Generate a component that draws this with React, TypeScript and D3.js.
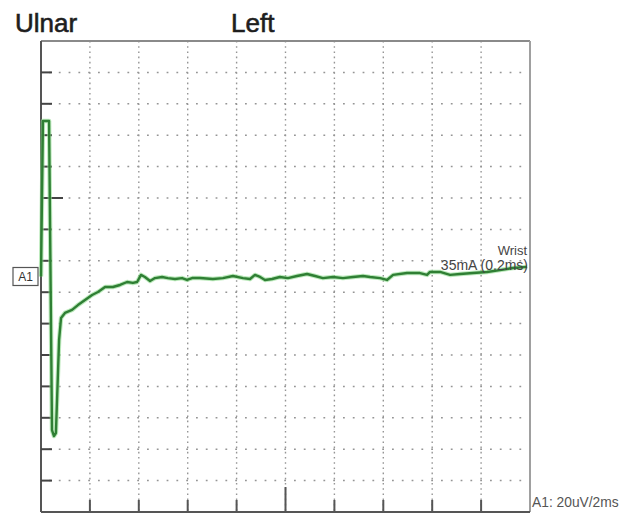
import React from "react";
import * as d3 from "d3";

// Trace samples: time (ms) and amplitude (uV)
const timeMs: number[] = [
  0, 0.08, 0.33, 0.45, 0.53, 0.61, 0.74, 0.82, 0.98, 1.27, 1.51, 1.8, 2.09, 2.33, 2.62,
  2.94, 3.23, 3.52, 3.76, 3.93, 4.09, 4.25, 4.46, 4.66, 4.95, 5.19, 5.48, 5.77, 5.97,
  6.18, 6.5, 7.03, 7.44, 7.85, 8.26, 8.55, 8.75, 8.96, 9.16, 9.45, 9.77, 10.1, 10.47,
  10.88, 11.21, 11.53, 11.94, 12.35, 12.76, 13.17, 13.46, 13.87, 14.15, 14.4, 14.97,
  15.5, 15.79, 15.91, 16.32, 16.73, 17.14, 17.67, 18.24, 18.77, 19.3, 19.88,
];
const amplitudeUv: number[] = [
  0, 99, 99, -97.8, -101.6, -99.7, -40.4, -26.4, -23.2, -21.3, -18.2, -15, -11.8, -9.9, -6.7,
  -6.7, -5.4, -3.5, -4.1, -3.5, 1, -0.3, -2.9, -1, -0.3, -1, -1.6, -1, -2.2,
  -1, -1, -1.6, -1, 0.3, -1, -1.6, 1, -0.3, -2.2, -1.6, -0.3, -1, 0.3,
  1.6, 0.3, -1, -0.3, -1, -0.3, 0.3, -0.3, -1, -2.2, 1, 2.2,
  2.2, 1, 2.9, 2.9, 1, 1.6, 2.2, 2.9, 4.1, 5.4, 6.1,
];

const titleLeft = "Ulnar";
const titleRight = "Left";
const channelLabel = "A1";
const siteLabel = "Wrist";
const stimLabel = "35mA (0.2ms)";
const scaleLabel = "A1: 20uV/2ms";

const xDivisions = 10; // 2 ms per division
const yDivisions = 15; // 20 uV per division
const msPerDiv = 2;
const uvPerDiv = 20;

export default function App() {
  const W = 632;
  const H = 514;
  const left = 41;
  const right = 530;
  const top = 41;
  const bottom = 512;

  const x = d3.scaleLinear().domain([0, xDivisions * msPerDiv]).range([left, right]);
  const y = d3
    .scaleLinear()
    .domain([-(yDivisions * uvPerDiv) / 2, (yDivisions * uvPerDiv) / 2])
    .range([bottom, top]);

  const pts: [number, number][] = timeMs.map((t, i) => [t, amplitudeUv[i]]);
  const line = d3
    .line<[number, number]>()
    .x((d) => x(d[0]))
    .y((d) => y(d[1]));
  const path = line(pts) || "";

  const xTicks = d3.range(1, xDivisions).map((i) => i * msPerDiv);
  const yTicks = d3
    .range(1, yDivisions)
    .map((i) => -(yDivisions * uvPerDiv) / 2 + i * uvPerDiv);

  const font = "'Liberation Sans', Arial, Helvetica, sans-serif";
  const yZero = y(0);

  return (
    <svg
      width={W}
      height={H}
      style={{ position: "absolute", left: 0, top: 0, background: "#fff" }}
      fontFamily={font}
    >
      <rect x={0} y={0} width={W} height={H} fill="#fff" />
      {/* grid */}
      {xTicks.map((t) => (
        <line
          key={"gx" + t}
          x1={x(t)}
          x2={x(t)}
          y1={top}
          y2={bottom}
          stroke="#959595"
          strokeWidth={1.4}
          strokeDasharray="1.6 3.6"
        />
      ))}
      {yTicks.map((v) => (
        <line
          key={"gy" + v}
          x1={left}
          x2={right}
          y1={y(v)}
          y2={y(v)}
          stroke="#959595"
          strokeWidth={1.5}
          strokeDasharray="1.8 8"
          strokeDashoffset={-8}
        />
      ))}
      {/* frame */}
      <line x1={left} x2={right} y1={top} y2={top} stroke="#8a8a8a" strokeWidth={2} />
      <line x1={right} x2={right} y1={top} y2={bottom} stroke="#a0a0a0" strokeWidth={2} />
      <line x1={left} x2={right} y1={bottom} y2={bottom} stroke="#555" strokeWidth={2} />
      <line x1={left} x2={left} y1={top} y2={bottom} stroke="#555" strokeWidth={2} />
      {/* left ticks */}
      {yTicks.map((v, i) => (
        <line
          key={"ty" + v}
          x1={left}
          x2={left + (i === 9 ? 22 : 11)}
          y1={y(v)}
          y2={y(v)}
          stroke="#444"
          strokeWidth={2}
        />
      ))}
      {/* bottom ticks */}
      {xTicks.map((t) => (
        <line
          key={"tx" + t}
          x1={x(t)}
          x2={x(t)}
          y1={bottom}
          y2={bottom - (t === 10 ? 25 : 12)}
          stroke="#555"
          strokeWidth={2}
        />
      ))}
      {/* trace */}
      <path d={path} fill="none" stroke="#8fdc8f" strokeWidth={4.5} strokeOpacity={0.6} strokeLinejoin="round" />
      <path d={path} fill="none" stroke="#2f7f34" strokeWidth={2.4} strokeLinejoin="round" />
      {/* titles */}
      <text x={15} y={32} fontSize={26} fill="#1e1e1e" stroke="#1e1e1e" strokeWidth={0.6}>{titleLeft}</text>
      <text x={231} y={32} fontSize={26} fill="#1e1e1e" stroke="#1e1e1e" strokeWidth={0.6}>{titleRight}</text>
      {/* channel box */}
      <rect x={13} y={yZero - 9} width={25} height={18} fill="#fff" stroke="#555" strokeWidth={1.2} />
      <text x={25.5} y={yZero + 4.5} fontSize={12} textAnchor="middle" fill="#333">{channelLabel}</text>
      {/* labels */}
      <text x={527} y={255} fontSize={13} textAnchor="end" fill="#444">{siteLabel}</text>
      <text x={528} y={270} fontSize={14} textAnchor="end" fill="#444">{stimLabel}</text>
      <text x={532} y={507} fontSize={13.8} fill="#555">{scaleLabel}</text>
    </svg>
  );
}
